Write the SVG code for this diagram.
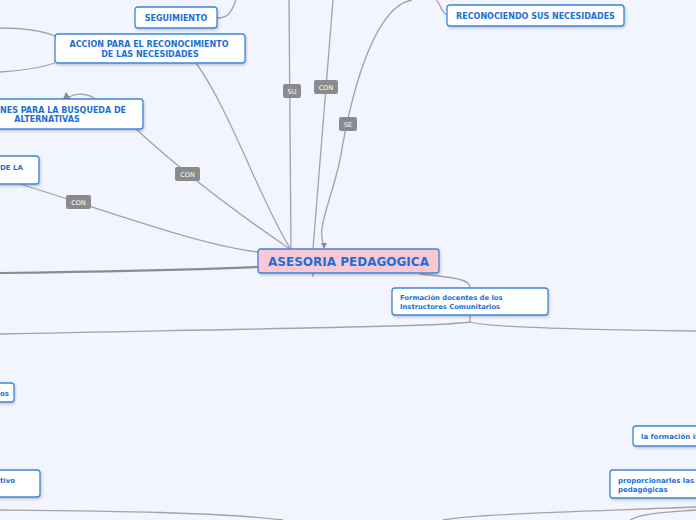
<svg xmlns="http://www.w3.org/2000/svg" width="696" height="520" viewBox="0 0 696 520">
<defs>
<style>
.bg{fill:#f2f5fe}
.box{fill:#ffffff;stroke:#3d86da;stroke-width:1.3}
.root{fill:#f9c8d4;stroke:#3d86da;stroke-width:1.3}
.t{font-family:Verdana,"DejaVu Sans",sans-serif;font-weight:bold;fill:#1b6fd6}
.c{fill:none;stroke:#a3a3a6;stroke-width:1.3}
.ct{fill:none;stroke:#8c8c90;stroke-width:2.2}
.lb{fill:#8b8b8d}
.lt{font-family:"DejaVu Sans",sans-serif;font-size:6.5px;fill:#ffffff;text-anchor:middle}
</style>
<filter id="sh" x="-10%" y="-10%" width="130%" height="140%"><feDropShadow dx="1" dy="1.5" stdDeviation="1" flood-color="#000" flood-opacity="0.2"/></filter>
</defs>
<rect class="bg" x="0" y="0" width="696" height="520"/>
<g id="connectors">
<path class="c" d="M217,18 C230,18 232,10 236,0"/>
<path class="c" d="M55,36 C40,30 20,28 0,28"/>
<path class="c" d="M55,63 C40,68 20,71 0,72"/>
<path class="c" d="M196,63 C230,110 260,200 290,248"/>
<path class="c" d="M289,0 L291,249"/>
<path class="c" d="M333,0 L313,249"/>
<path class="c" d="M447,15 C440,12 441,3 436,0"/>
<path class="c" d="M412,0 C380,5 355,70 340,160 C330,205 316,228 324,246"/>
<polygon fill="#8c8c90" points="321,243 327,243 324,249"/>
<path class="c" d="M135,128 C180,170 240,215 290,249"/>
<path class="c" d="M95,99 C88,93 76,93 69,97"/>
<polygon fill="#8c8c90" points="66,92 71,99 63,99"/>
<path class="c" d="M20,184 C120,215 200,245 258,252"/>
<path class="ct" d="M258,267 C180,270 80,272 0,273"/>
<path class="c" d="M313,273 L313,277"/>
<path class="c" d="M420,274 C460,278 470,280 470,288"/>
<path class="c" d="M470,316 L470,322 C450,326 300,328 0,334"/>
<path class="c" d="M470,322 C490,328 600,330 696,331"/>
<path class="c" d="M0,510 C100,511 220,512 283,520"/>
<path class="c" d="M443,520 C470,514 600,511 696,507"/>
<path class="c" d="M630,520 C640,513 670,512 696,510"/>
</g>
<g id="lbl-su"><rect class="lb" x="283" y="84" width="18" height="14" rx="2"/><text class="lt" x="292" y="93.5">SU</text></g>
<g id="lbl-con1"><rect class="lb" x="314" y="80" width="24" height="14" rx="2"/><text class="lt" x="326" y="89.5">CON</text></g>
<g id="lbl-se"><rect class="lb" x="339" y="117" width="18" height="14" rx="2"/><text class="lt" x="348" y="126.5">SE</text></g>
<g id="lbl-con2"><rect class="lb" x="175" y="167" width="25" height="14" rx="2"/><text class="lt" x="187.5" y="176.5">CON</text></g>
<g id="lbl-con3"><rect class="lb" x="66" y="195" width="25" height="14" rx="2"/><text class="lt" x="78.5" y="204.5">CON</text></g>
<g id="n-seguimiento"><rect class="box" filter="url(#sh)" x="135" y="7" width="82" height="21" rx="3"/><text class="t" x="176" y="21" font-size="8" text-anchor="middle">SEGUIMIENTO</text></g>
<g id="n-accion"><rect class="box" filter="url(#sh)" x="55" y="34" width="190" height="29" rx="3"/><text class="t" x="149" y="47" font-size="8" text-anchor="middle">ACCION PARA EL RECONOCIMIENTO</text><text class="t" x="150" y="57" font-size="8" text-anchor="middle">DE LAS  NECESIDADES</text></g>
<g id="n-reconociendo"><rect class="box" filter="url(#sh)" x="447" y="5" width="177" height="21" rx="3"/><text class="t" x="535.5" y="19" font-size="8" text-anchor="middle">RECONOCIENDO SUS NECESIDADES</text></g>
<g id="n-busqueda"><rect class="box" filter="url(#sh)" x="-50" y="99" width="193" height="30" rx="3"/><text class="t" x="0" y="112.5" font-size="8">NES PARA LA BUSQUEDA DE</text><text class="t" x="47" y="122" font-size="8" text-anchor="middle">ALTERNATIVAS</text></g>
<g id="n-dela"><rect class="box" filter="url(#sh)" x="-50" y="156" width="89" height="28" rx="3"/><text class="t" x="0" y="169.5" font-size="7">DE LA</text></g>
<g id="n-asesoria"><rect class="root" filter="url(#sh)" x="258" y="249" width="181" height="24" rx="3"/><text class="t" x="348.5" y="266" font-size="12" text-anchor="middle">ASESORIA PEDAGOGICA</text></g>
<g id="n-formacion"><rect class="box" filter="url(#sh)" x="392" y="288" width="156" height="27" rx="3"/><text class="t" x="400" y="300" font-size="6.8">Formación docentes de los</text><text class="t" x="400" y="309" font-size="6.8">Instructores Comunitarios</text></g>
<g id="n-os"><rect class="box" filter="url(#sh)" x="-50" y="383" width="64" height="19" rx="3"/><text class="t" x="0" y="396" font-size="7">os</text></g>
<g id="n-tivo"><rect class="box" filter="url(#sh)" x="-50" y="470" width="90" height="27" rx="3"/><text class="t" x="0" y="483" font-size="7">tivo</text></g>
<g id="n-laformacion"><rect class="box" filter="url(#sh)" x="633" y="426" width="100" height="20" rx="3"/><text class="t" x="641" y="439" font-size="7">la formación in</text></g>
<g id="n-proporcionarles"><rect class="box" filter="url(#sh)" x="610" y="470" width="110" height="28" rx="3"/><text class="t" x="618" y="483" font-size="7">proporcionarles las</text><text class="t" x="618" y="492" font-size="7">pedagógicas</text></g>
</svg>
